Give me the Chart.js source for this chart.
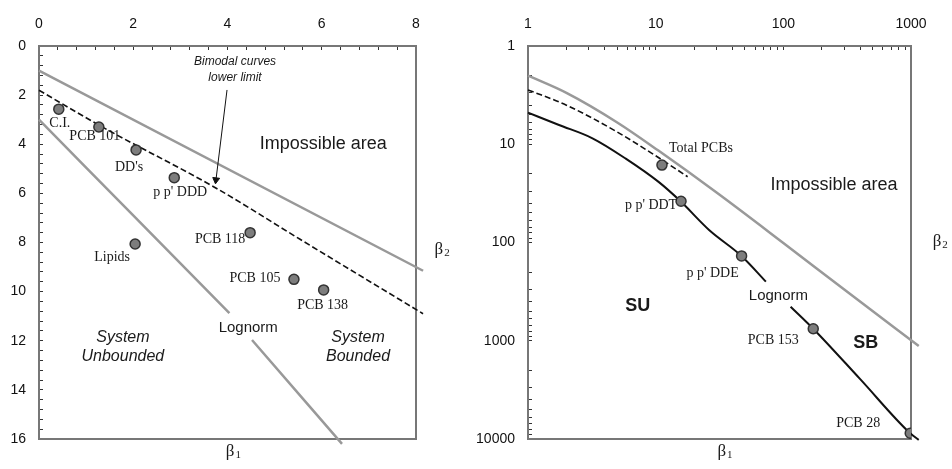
<!DOCTYPE html>
<html>
<head>
<meta charset="utf-8">
<script src="https://cdn.jsdelivr.net/npm/chart.js@4.4.1/dist/chart.umd.min.js"></script>
<style>
  html, body { margin: 0; padding: 0; background: #fff; }
  #wrap { position: relative; width: 952px; height: 469px; }
  .panel { position: absolute; top: 0; width: 476px; height: 469px; }
</style>
</head>
<body>
<div id="wrap">
  <div class="panel" style="left:0"><canvas id="chartLeft" width="476" height="469"></canvas></div>
  <div class="panel" style="left:476px"><canvas id="chartRight" width="476" height="469"></canvas></div>
</div>
<script>
const SANS = '"Liberation Sans", Arial, sans-serif';
const SERIF = '"Liberation Serif", "Times New Roman", serif';

// ---- panel izquierdo (escala lineal) ----
const leftNames = ['C.I.', 'PCB 101', "DD's", "p p' DDD", 'PCB 118', 'Lipids', 'PCB 105', 'PCB 138'];
const leftB1 = [0.42, 1.27, 2.06, 2.87, 4.48, 2.04, 5.41, 6.04];
const leftB2 = [2.57, 3.3, 4.23, 5.36, 7.6, 8.06, 9.5, 9.93];
const leftDx = [1, -4, -7, 6, -30, -23, -39, -1];
const leftDy = [14, 9, 17, 15, 7, 13, -1, 15];

const leftImpB1 = [0, 8.15];
const leftImpB2 = [1, 9.15];
const leftBimB1 = [0, 1.3, 3.77, 5.54, 8.15];
const leftBimB2 = [1.8, 3.25, 5.8, 7.87, 10.9];
const leftLogB1 = [0, 2.02, 4.04, 4.3, 4.52, 6.43];
const leftLogB2 = [3.0, 6.94, 10.88, null, 11.97, 16.2];
const arrowB1 = [3.99, 3.755];
const arrowB2 = [1.79, 5.45];

const leftXTicks = Array.from({ length: 21 }, (_, i) => +(i * 0.4).toFixed(1));
const leftYTicks = Array.from({ length: 41 }, (_, i) => +(i * 0.4).toFixed(1));

// ---- panel derecho (escala logaritmica) ----
const rightNames = ['Total PCBs', "p p' DDT", "p p' DDE", 'PCB 153', 'PCB 28'];
const rightB1 = [11.2, 15.8, 47.1, 171.5, 986];
const rightB2 = [16.3, 38, 137, 754, 8750];
const rightDx = [39, -30, -29, -40, -52];
const rightDy = [-17, 4, 17, 12, -10];

const rightImpB1 = [1, 2, 5, 10.5, 30, 100, 300, 1150];
const rightImpB2 = [2, 3, 6, 11.6, 31, 101, 301, 1130];
const rightBimB1 = [1, 2, 5, 10, 17.8];
const rightBimB2 = [2.8, 4.0, 7.5, 13.1, 21.4];
const rightLogB1 = [1, 1.75, 3.2, 5.83, 10.6, 15.6, 26.2, 47, 73, 90, 114, 171.5, 400, 986, 1150];
const rightLogB2 = [4.77, 6.37, 8.7, 14.0, 24.3, 37.9, 74.6, 137, 250, null, 450, 754, 2460, 8750, 10200];

function logTicks(maxExp) {
  const t = [];
  for (let e = 0; e < maxExp; e++) for (let s = 1; s < 10; s++) t.push(s * Math.pow(10, e));
  t.push(Math.pow(10, maxExp));
  return t;
}
const rightXTicks = logTicks(3);
const rightYTicks = logTicks(4);

const pares = (xs, ys) => xs.map((x, i) => ({ x: x, y: ys[i] }));

// textos del panel
const leftTexts = [
  { t: 'Impossible area', x: 6.03, y: 3.99, font: '18px ' + SANS },
  { t: 'Bimodal curves', x: 4.16, y: 0.65, font: 'italic 12px ' + SANS },
  { t: 'lower limit', x: 4.16, y: 1.3, font: 'italic 12px ' + SANS },
  { t: 'Lognorm', x: 4.44, y: 11.48, font: '15px ' + SANS },
  { t: 'System', x: 1.78, y: 11.85, font: 'italic 16px ' + SANS },
  { t: 'Unbounded', x: 1.78, y: 12.66, font: 'italic 16px ' + SANS },
  { t: 'System', x: 6.77, y: 11.85, font: 'italic 16px ' + SANS },
  { t: 'Bounded', x: 6.77, y: 12.66, font: 'italic 16px ' + SANS },
  { beta: '2', x: 8.55, y: 8.3 },
  { beta: '1', x: 4.12, y: 16.53 }
];
const rightTexts = [
  { t: 'Impossible area', x: 249, y: 26, font: '18px ' + SANS },
  { t: 'Lognorm', x: 91.5, y: 350, font: '15px ' + SANS },
  { t: 'SU', x: 7.24, y: 443, font: 'bold 18px ' + SANS },
  { t: 'SB', x: 443, y: 1054, font: 'bold 18px ' + SANS },
  { beta: '2', x: 1686, y: 98.9 },
  { beta: '1', x: 34.8, y: 13550 }
];

function crearPluginTextos(cfg) {
  return {
    id: 'textos',
    beforeDatasetsDraw(chart) {
      const a = chart.chartArea, ctx = chart.ctx;
      ctx.save();
      ctx.strokeStyle = '#777';
      ctx.lineWidth = 2;
      ctx.strokeRect(a.left, a.top, a.right - a.left, a.bottom - a.top);
      ctx.restore();
    },
    afterDatasetsDraw(chart) {
      const ctx = chart.ctx, sx = chart.scales.x, sy = chart.scales.y;
      ctx.save();
      ctx.textAlign = 'center';
      ctx.textBaseline = 'middle';
      ctx.fillStyle = '#1a1a1a';
      ctx.font = '14px ' + SERIF;
      cfg.names.forEach((n, i) => {
        ctx.fillText(n, sx.getPixelForValue(cfg.b1[i]) + cfg.dx[i], sy.getPixelForValue(cfg.b2[i]) + cfg.dy[i]);
      });
      cfg.texts.forEach(t => {
        const px = sx.getPixelForValue(t.x), py = sy.getPixelForValue(t.y);
        if (t.beta) {
          ctx.font = '17px ' + SERIF;
          ctx.fillText('\u03b2', px - 3, py);
          ctx.font = '11px ' + SERIF;
          ctx.fillText(t.beta, px + 5, py + 3);
        } else {
          ctx.font = t.font;
          ctx.fillText(t.t, px, py);
        }
      });
      ctx.restore();
    }
  };
}

function escala(opts) {
  return Object.assign({
    afterBuildTicks: s => { s.ticks = opts.valores.map(v => ({ value: v })); },
    ticks: {
      autoSkip: false, maxRotation: 0, color: '#111', padding: opts.padding,
      font: { family: SANS, size: 14 },
      callback: opts.etiqueta
    },
    grid: { drawOnChartArea: false, tickLength: -4, tickColor: '#333', tickWidth: 1 },
    border: { display: false }
  }, opts.base);
}

const puntosEstilo = {
  pointRadius: 5, pointBackgroundColor: '#7d7d7d', pointBorderColor: '#333',
  pointBorderWidth: 1.5, showLine: false
};
const linea = (data, color, width, dash) => ({
  data: data, showLine: true, pointRadius: 0, borderColor: color, borderWidth: width,
  borderDash: dash || [], cubicInterpolationMode: 'monotone', clip: false, fill: false
});

// flecha: linea fina con punta triangular al final
const flecha = Object.assign(linea(pares(arrowB1, arrowB2), '#111', 1), {
  pointRadius: [0, 4], pointStyle: 'triangle', pointRotation: [0, 187],
  pointBackgroundColor: '#111', pointBorderColor: '#111', pointBorderWidth: 1
});

const comunes = {
  responsive: false, animation: false, events: [],
  plugins: { legend: { display: false }, tooltip: { enabled: false } }
};

new Chart(document.getElementById('chartLeft'), {
  type: 'scatter',
  data: {
    datasets: [
      Object.assign({ data: pares(leftB1, leftB2) }, puntosEstilo),
      flecha,
      linea(pares(leftBimB1, leftBimB2), '#111', 1.6, [6, 3]),
      linea(pares(leftImpB1, leftImpB2), '#999', 2.5),
      linea(pares(leftLogB1, leftLogB2), '#999', 2.5)
    ]
  },
  options: Object.assign({}, comunes, {
    layout: { padding: { top: 0, left: 0, right: 60, bottom: 30 } },
    scales: {
      x: escala({
        valores: leftXTicks, padding: 17,
        etiqueta: v => (Math.round(v * 10) % 20 === 0 ? String(Math.round(v)) : ''),
        base: { type: 'linear', position: 'top', min: 0, max: 8, afterFit: s => { s.height = 46; } }
      }),
      y: escala({
        valores: leftYTicks, padding: 17,
        etiqueta: v => (Math.round(v * 10) % 20 === 0 ? String(Math.round(v)) : ''),
        base: { type: 'linear', reverse: true, min: 0, max: 16, afterFit: s => { s.width = 39; } }
      })
    }
  }),
  plugins: [crearPluginTextos({ names: leftNames, b1: leftB1, b2: leftB2, dx: leftDx, dy: leftDy, texts: leftTexts })]
});

const esPotencia = v => Math.abs(Math.log10(v) - Math.round(Math.log10(v))) < 1e-9;

new Chart(document.getElementById('chartRight'), {
  type: 'scatter',
  data: {
    datasets: [
      Object.assign({ data: pares(rightB1, rightB2) }, puntosEstilo),
      linea(pares(rightLogB1, rightLogB2), '#111', 2),
      linea(pares(rightBimB1, rightBimB2), '#111', 1.6, [6, 3]),
      linea(pares(rightImpB1, rightImpB2), '#999', 2.5)
    ]
  },
  options: Object.assign({}, comunes, {
    layout: { padding: { top: 0, left: 0, right: 41, bottom: 30 } },
    scales: {
      x: escala({
        valores: rightXTicks, padding: 17,
        etiqueta: v => (esPotencia(v) ? String(v) : ''),
        base: { type: 'logarithmic', position: 'top', min: 1, max: 1000, afterFit: s => { s.height = 46; } }
      }),
      y: escala({
        valores: rightYTicks, padding: 17,
        etiqueta: v => (esPotencia(v) ? String(v) : ''),
        base: { type: 'logarithmic', reverse: true, min: 1, max: 10000, afterFit: s => { s.width = 52; } }
      })
    }
  }),
  plugins: [crearPluginTextos({ names: rightNames, b1: rightB1, b2: rightB2, dx: rightDx, dy: rightDy, texts: rightTexts })]
});
</script>
</body>
</html>
